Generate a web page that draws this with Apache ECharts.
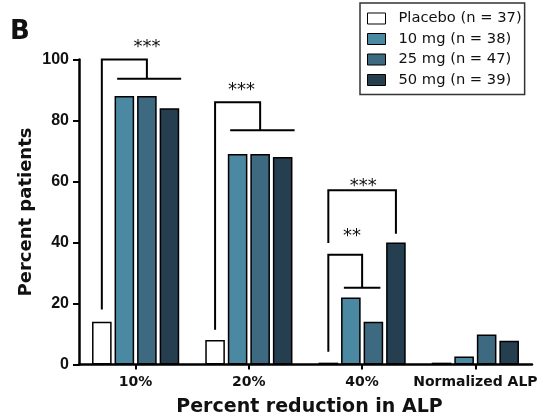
<!DOCTYPE html>
<html>
<head>
<meta charset="utf-8">
<script src="https://cdn.jsdelivr.net/npm/echarts@6/dist/echarts.min.js"></script>
<style>html,body{margin:0;padding:0;background:#fff;}#c{width:543px;height:415px;}</style>
</head>
<body>
<div id="c"></div>
<script>
// ---- data ----
const categories = ['10%', '20%', '40%', 'Normalized ALP'];
const seriesNames = ['Placebo (n = 37)', '10 mg (n = 38)', '25 mg (n = 47)', '50 mg (n = 39)'];
const placebo = [14, 8, 0.6, 0.6];
const mg10 = [88, 69, 22, 2.6];
const mg25 = [88, 69, 14, 9.8];
const mg50 = [84, 68, 40, 7.8];
const yTicks = [0, 20, 40, 60, 80, 100];
// significance brackets: category index, path in (bar slot, value), span line, stars
const bracketCats = [0, 1, 2, 2];
const bracketPaths = [
  [[0, 18], [0, 100], [2, 100], [2, 93.7]],
  [[0, 11.4], [0, 86], [2, 86], [2, 76.8]],
  [[0, 39.8], [0, 57.1], [3, 57.1], [3, 42.9]],
  [[0, 4.2], [0, 36], [1.5, 36], [1.5, 25.2]]
];
const bracketSpans = [[0.68, 3.52, 93.7], [0.67, 3.53, 76.8], null, [0.69, 2.31, 25.2]];
const bracketLabels = ['***', '***', '***', '**'];
const bracketLabelPos = [[2, 105.4], [1.17, 91.3], [1.55, 59.6], [1.05, 43.3]];

// ---- style ----
const colors = ['#ffffff', '#4b88a2', '#3d6a81', '#253e50'];
const BAR_FRAC = 0.173, BAR_GAP = 0.15;
const FONT = '"DejaVu Sans", sans-serif';

const chart = echarts.init(document.getElementById('c'), null, {renderer: 'canvas'});
const values = [placebo, mg10, mg25, mg50];
const barSeries = values.map((v, i) => ({
  name: seriesNames[i],
  type: 'bar',
  data: v,
  barWidth: (BAR_FRAC * 100) + '%',
  barGap: (BAR_GAP * 100) + '%',
  itemStyle: {color: colors[i], borderColor: '#000', borderWidth: 1.5},
  emphasis: {disabled: true},
  animation: false
}));

const bracketSeries = {
  type: 'custom',
  clip: false,
  silent: true,
  animation: false,
  data: bracketCats.map((c, i) => [c, bracketPaths[i][1][1]]),
  encode: {x: 0, y: 1},
  renderItem: function (params, api) {
    const i = params.dataIndex;
    const cat = api.value(0);
    const cx = api.coord([cat, 0])[0];
    const band = api.size([1, 0])[0];
    const bw = band * BAR_FRAC;
    const step = bw * (1 + BAR_GAP);
    const X = k => cx + (k - 1.5) * step;
    const Y = v => api.coord([cat, v])[1];
    const children = [];
    children.push({
      type: 'polyline',
      shape: {points: bracketPaths[i].map(p => [X(p[0]), Y(p[1])])},
      style: {stroke: '#000', lineWidth: 2, fill: null}
    });
    const s = bracketSpans[i];
    if (s) {
      children.push({
        type: 'line',
        shape: {x1: X(s[0]), y1: Y(s[2]), x2: X(s[1]), y2: Y(s[2])},
        style: {stroke: '#000', lineWidth: 2}
      });
    }
    const lp = bracketLabelPos[i];
    children.push({
      type: 'text',
      style: {
        text: bracketLabels[i],
        x: X(lp[0]), y: Y(lp[1]) + 4,
        textAlign: 'center', textVerticalAlign: 'middle',
        font: '18px ' + FONT, fill: '#111'
      }
    });
    return {type: 'group', children: children};
  }
};

chart.setOption({
  animation: false,
  backgroundColor: '#fff',
  grid: {left: 79, right: 11, top: 59.5, bottom: 50.5, containLabel: false, outerBoundsMode: 'none'},
  legend: {
    data: seriesNames,
    orient: 'vertical',
    left: 360, top: 3,
    padding: [8, 3, 7, 7],
    icon: 'rect',
    itemWidth: 18, itemHeight: 11,
    itemGap: 5.5,
    selectedMode: false,
    borderColor: '#333', borderWidth: 1.5,
    itemStyle: {borderColor: '#000', borderWidth: 1},
    textStyle: {fontFamily: FONT, fontSize: 14.7, color: '#111', padding: [0, 0, 0, 8]}
  },
  xAxis: {
    type: 'category',
    data: categories,
    axisLine: {lineStyle: {color: '#000', width: 2.5}},
    axisTick: {show: true, alignWithLabel: true, length: 5, lineStyle: {color: '#000', width: 2}},
    axisLabel: {fontFamily: FONT, fontWeight: 'bold', fontSize: 14, color: '#111', margin: 11, interval: 0, hideOverlap: false},
    name: 'Percent reduction in ALP',
    nameLocation: 'middle',
    nameGap: 33,
    nameMoveOverlap: false,
    nameTextStyle: {fontFamily: FONT, fontWeight: 'bold', fontSize: 19, color: '#111', padding: [0, 0, 0, 8]}
  },
  yAxis: {
    type: 'value',
    min: yTicks[0], max: yTicks[yTicks.length - 1], interval: yTicks[1] - yTicks[0],
    splitLine: {show: false},
    axisLine: {show: true, lineStyle: {color: '#000', width: 2.5}},
    axisTick: {show: true, length: 6, lineStyle: {color: '#000', width: 2}},
    axisLabel: {fontFamily: '"Liberation Sans", Arial, sans-serif', fontWeight: 'bold', fontSize: 16, color: '#111', margin: 10},
    name: 'Percent patients',
    nameLocation: 'middle',
    nameGap: 44,
    nameMoveOverlap: false,
    nameRotate: 90,
    nameTextStyle: {fontFamily: FONT, fontWeight: 'bold', fontSize: 18, color: '#111'}
  },
  graphic: [{
    type: 'text', left: 10, top: 19,
    style: {text: 'B', font: 'bold 26px ' + FONT, fill: '#111'}
  }],
  series: barSeries.concat([bracketSeries])
});
</script>
</body>
</html>
